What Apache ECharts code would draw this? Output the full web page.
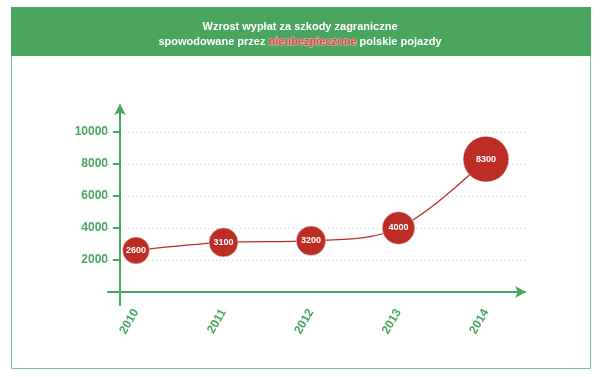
<!DOCTYPE html>
<html>
<head>
<meta charset="utf-8">
<script src="https://cdn.jsdelivr.net/npm/echarts@6/dist/echarts.min.js"></script>
<style>
  html, body { margin: 0; padding: 0; background: #fff; }
  #chart { width: 600px; height: 377px; }
</style>
</head>
<body>
<div id="chart"></div>
<script>
// dane z wykresu
const years = [2010, 2011, 2012, 2013, 2014];
const payouts = [2600, 3100, 3200, 4000, 8300];
const yTicks = [2000, 4000, 6000, 8000, 10000];

const green = '#4aa65f';
const red = '#bb2d25';

const chart = echarts.init(document.getElementById('chart'));

let option = {
    animation: false,
    textStyle: { fontFamily: 'Arial, "Liberation Sans", sans-serif' },
    graphic: [
        // ramka i zielony pasek tytułu
        { type: 'rect', shape: { x: 11.5, y: 7.5, width: 579, height: 361 },
          style: { fill: '#fff', stroke: '#7cc08c', lineWidth: 1 }, z: -10 },
        { type: 'rect', shape: { x: 11, y: 7, width: 580, height: 49 },
          style: { fill: green }, z: -9 }
    ],
    title: {
        left: 'center',
        top: 14,
        text: '{a|Wzrost wypłat za szkody zagraniczne}\n{a|spowodowane przez }{r|nieubezpieczone}{a| polskie pojazdy}',
        textStyle: {
            rich: {
                a: { color: '#fff', fontSize: 11, fontWeight: 'bold', lineHeight: 15 },
                r: { color: '#e0454a', fontSize: 11, fontWeight: 'bold', lineHeight: 15,
                     textBorderColor: '#f3c0c0', textBorderWidth: 1 }
            }
        }
    },
    grid: { left: 108, right: 75, top: 105, bottom: 72 },
    xAxis: {
        type: 'value',
        min: 2009.68,
        max: 2014.446,
        axisLine: { onZero: true, symbol: ['none', 'arrow'], symbolSize: [9, 11], symbolOffset: [0, 1],
                    lineStyle: { color: green, width: 2 } },
        axisTick: { show: false },
        splitLine: { show: false },
        axisLabel: {
            customValues: years,
            rotate: 60,
            margin: 5,
            color: green,
            fontWeight: 'bold',
            fontSize: 12,
            formatter: v => String(v)
        }
    },
    yAxis: {
        type: 'value',
        min: -812.5,
        max: 11687.5,
        offset: -12,
        axisLine: { show: true, onZero: false, symbol: ['none', 'arrow'], symbolSize: [9, 11], symbolOffset: [0, 1],
                    lineStyle: { color: green, width: 2 } },
        axisTick: { show: true, customValues: yTicks, length: 7, lineStyle: { color: green, width: 2 } },
        axisLabel: { customValues: yTicks, margin: 12, color: green, fontWeight: 'bold', fontSize: 12,
                     formatter: v => String(v) },
        splitLine: { show: true, lineStyle: { color: '#b9dcc6', type: [1, 3], width: 1 } }
    },
    series: [{
        type: 'line',
        smooth: 0.35,
        data: years.map((y, i) => [y, payouts[i]]),
        symbol: 'circle',
        symbolSize: v => Math.sqrt(v[1]) * 0.47 + 3,
        lineStyle: { color: red, width: 1.2 },
        itemStyle: { color: red, borderColor: '#fff', borderWidth: 0.5 },
        label: {
            show: true,
            position: 'inside',
            color: '#fff',
            fontWeight: 'bold',
            fontSize: 9,
            formatter: p => p.value[1]
        }
    }]
};

chart.setOption(option);
</script>
</body>
</html>
